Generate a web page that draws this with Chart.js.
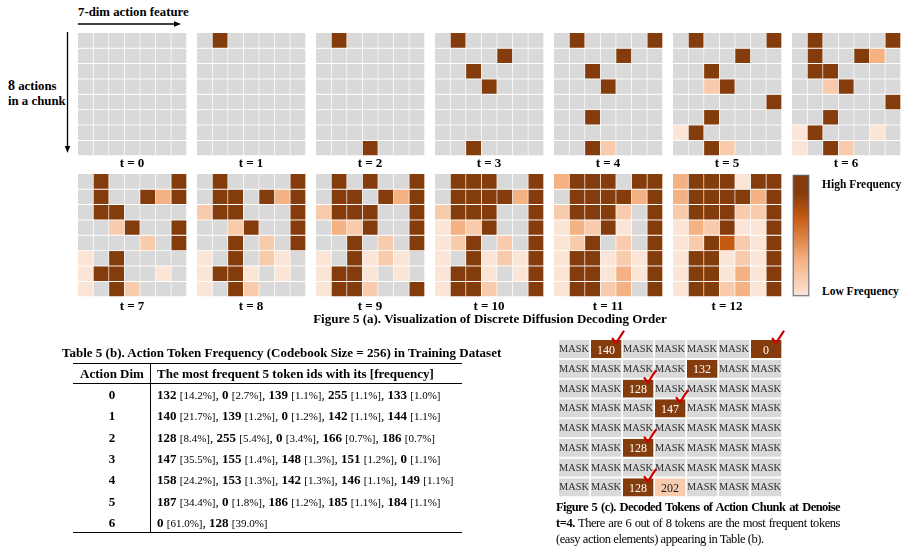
<!DOCTYPE html>
<html><head><meta charset="utf-8">
<script src="https://cdn.jsdelivr.net/npm/chart.js@4.4.1/dist/chart.umd.min.js"></script>
<style>
html,body{margin:0;padding:0;background:#fff;}
#page{position:relative;width:914px;height:554px;overflow:hidden;font-family:"Times New Roman","Liberation Serif",serif;color:#000;}
.abs{position:absolute;white-space:nowrap;}
canvas{position:absolute;}
.f{font-weight:normal;font-size:11px;}
</style></head><body><div id="page"></div>
<script>
// ---------------- data ----------------
// frequency level of each decoded cell (0 = still masked, 1..5 = low..high frequency)
const featureDims = ['0','1','2','3','4','5','6'];
const stepLabels = ['t = 0','t = 1','t = 2','t = 3','t = 4','t = 5','t = 6','t = 7','t = 8','t = 9','t = 10','t = 11','t = 12'];
const levelColors = ['#D9D9D9','#FBE5D6','#F8CBAD','#F4B183','#C55A11','#843C0C'];

const t0 = [[0,0,0,0,0,0,0],[0,0,0,0,0,0,0],[0,0,0,0,0,0,0],[0,0,0,0,0,0,0],[0,0,0,0,0,0,0],[0,0,0,0,0,0,0],[0,0,0,0,0,0,0],[0,0,0,0,0,0,0]];
const t1 = [[0,5,0,0,0,0,0],[0,0,0,0,0,0,0],[0,0,0,0,0,0,0],[0,0,0,0,0,0,0],[0,0,0,0,0,0,0],[0,0,0,0,0,0,0],[0,0,0,0,0,0,0],[0,0,0,0,0,0,0]];
const t2 = [[0,5,0,0,0,0,0],[0,0,0,0,0,0,0],[0,0,0,0,0,0,0],[0,0,0,0,0,0,0],[0,0,0,0,0,0,0],[0,0,0,0,0,0,0],[0,0,0,0,0,0,0],[0,0,0,5,0,0,0]];
const t3 = [[0,5,0,0,0,0,0],[0,0,0,0,5,0,0],[0,0,5,0,0,0,0],[0,0,0,5,0,0,0],[0,0,0,0,0,0,0],[0,0,0,0,0,0,0],[0,0,0,0,0,0,0],[0,0,5,0,0,0,0]];
const t4 = [[0,5,0,0,0,0,5],[0,0,0,0,5,0,0],[0,0,5,0,0,0,0],[0,0,0,5,0,0,0],[0,0,0,0,0,0,0],[0,0,5,0,0,0,0],[0,0,0,0,0,0,0],[0,0,5,2,0,0,0]];
const t5 = [[0,5,0,0,0,0,5],[0,0,0,0,5,0,0],[0,0,5,0,0,0,0],[0,0,2,5,0,0,0],[0,0,0,0,0,0,5],[0,0,5,0,0,0,0],[1,5,0,0,0,0,0],[0,0,5,2,0,0,0]];
const t6 = [[0,5,0,0,0,0,5],[0,5,0,0,5,3,0],[0,5,5,0,0,0,0],[0,0,2,5,0,0,0],[0,0,0,0,0,0,5],[0,0,5,0,0,0,0],[1,5,0,0,0,1,0],[1,0,5,2,0,0,0]];
const t7 = [[0,5,0,0,0,0,5],[0,5,0,0,5,3,5],[0,5,5,0,0,0,0],[0,0,2,5,0,0,5],[0,0,0,0,2,0,5],[1,0,5,0,0,0,0],[1,5,5,0,0,1,0],[1,0,5,2,0,0,0]];
const t8 = [[0,5,0,0,0,0,5],[0,5,5,0,5,3,5],[2,5,5,0,0,0,5],[0,0,2,5,0,0,5],[0,0,5,0,2,0,5],[1,0,5,0,2,1,0],[1,5,5,1,0,1,0],[1,0,5,2,0,0,0]];
const t9 = [[0,5,0,5,0,0,5],[0,5,5,0,5,3,5],[2,5,5,5,0,0,5],[0,3,2,5,0,0,5],[0,0,5,0,2,0,5],[1,0,5,1,2,1,0],[1,5,5,1,0,1,0],[1,5,5,2,0,0,5]];
const t10 = [[0,5,5,5,0,0,5],[0,5,5,5,5,3,5],[2,5,5,5,0,0,5],[1,3,2,5,0,0,5],[1,2,5,0,2,0,5],[1,0,5,1,2,1,5],[1,5,5,1,0,1,5],[1,5,5,2,0,0,5]];
const t11 = [[3,5,5,5,0,5,5],[0,5,5,5,5,3,5],[2,5,5,5,2,0,5],[1,3,2,5,1,0,5],[1,2,5,0,2,0,5],[1,5,5,1,2,1,5],[1,5,5,1,3,1,5],[1,5,5,2,3,0,5]];
const t12 = [[3,5,5,5,1,5,5],[3,5,5,5,5,3,5],[2,5,5,5,2,2,5],[1,3,2,5,1,1,5],[1,2,5,4,2,1,5],[1,5,5,1,2,1,5],[1,5,5,1,3,1,5],[1,5,5,2,3,1,5]];
const decodingSteps = [t0,t1,t2,t3,t4,t5,t6,t7,t8,t9,t10,t11,t12];

const colorbarStops = [[0,'#843C0C'],[0.15,'#843C0C'],[0.35,'#C55A11'],[0.7,'#F4B183'],[1,'#FBE5D6']];

// table (b)
const actionDims = ['0','1','2','3','4','5','6'];
const topTokenIds = [[132,0,139,255,133],[140,139,0,142,144],[128,255,0,166,186],[147,155,148,151,0],[158,153,142,146,149],[187,0,186,185,184],[0,128]];
const topTokenFreqs = [['14.2%','2.7%','1.1%','1.1%','1.0%'],['21.7%','1.2%','1.2%','1.1%','1.1%'],['8.4%','5.4%','3.4%','0.7%','0.7%'],['35.5%','1.4%','1.3%','1.2%','1.1%'],['24.2%','1.3%','1.3%','1.1%','1.1%'],['34.4%','1.8%','1.2%','1.1%','1.1%'],['61.0%','39.0%']];

// (c) decoded tokens at t=4
const chunkTokens = [
  [null,'140',null,null,null,null,'0'],
  [null,null,null,null,'132',null,null],
  [null,null,'128',null,null,null,null],
  [null,null,null,'147',null,null,null],
  [null,null,null,null,null,null,null],
  [null,null,'128',null,null,null,null],
  [null,null,null,null,null,null,null],
  [null,null,'128','202',null,null,null]];
const chunkLevels = [
  [0,5,0,0,0,0,5],[0,0,0,0,5,0,0],[0,0,5,0,0,0,0],[0,0,0,5,0,0,0],
  [0,0,0,0,0,0,0],[0,0,5,0,0,0,0],[0,0,0,0,0,0,0],[0,0,5,2,0,0,0]];
const frequentHits = [[0,1],[0,6],[2,2],[3,3],[5,2],[7,2]];

// ---------------- helpers ----------------
const page = document.getElementById('page');
const SERIF = '"Times New Roman","Liberation Serif",serif';
function addText(html, x, yc, size, bold, align, width){
  const d = document.createElement('div');
  d.className = 'abs';
  d.innerHTML = html;
  const lh = Math.round(size*1.4);
  d.style.fontSize = size+'px';
  d.style.lineHeight = lh+'px';
  d.style.top = (yc - lh/2)+'px';
  d.style.fontWeight = bold ? 'bold' : 'normal';
  if (align === 'center'){ const w = width||400; d.style.left = (x - w/2)+'px'; d.style.width = w+'px'; d.style.textAlign='center'; }
  else d.style.left = x+'px';
  page.appendChild(d);
  return d;
}
function fitAndJustify(d, width){
  let ls = 0;
  while (d.getBoundingClientRect().width > width - 8 && ls > -1){
    ls -= 0.05; d.style.letterSpacing = ls+'px';
  }
  const w = d.getBoundingClientRect().width;
  const spaces = (d.textContent.match(/ /g) || []).length;
  if (spaces && w < width) d.style.wordSpacing = ((width - w)/spaces)+'px';
  return ls;
}
function addCanvas(x, y, w, h){
  const c = document.createElement('canvas');
  c.width = w; c.height = h;
  c.style.left = x+'px'; c.style.top = y+'px';
  c.style.width = w+'px'; c.style.height = h+'px';
  page.appendChild(c);
  return c;
}
const baseOpts = {responsive:false, animation:false, events:[], devicePixelRatio:1,
  plugins:{legend:{display:false}, tooltip:{enabled:false}}};

function gridChart(canvas, levels, gap, padding, extraPlugins){
  const datasets = levels.map(row => ({
    data: row.map(() => 1),
    backgroundColor: row.map(v => levelColors[v]),
    borderColor: '#ffffff',
    borderWidth: {top:0, left:0, right:gap, bottom:gap},
    borderSkipped: false,
    categoryPercentage: 1, barPercentage: 1,
    stack: 'cells'
  }));
  return new Chart(canvas, {
    type:'bar',
    data:{labels: featureDims, datasets},
    options: Object.assign({}, baseOpts, {
      layout:{padding: padding || 0},
      scales:{
        x:{display:false, stacked:true},
        y:{display:false, stacked:true, min:0, max:levels.length, reverse:true}
      }
    }),
    plugins: extraPlugins || []
  });
}

// ---------------- heatmaps (a) ----------------
const HX0 = 78, HPITCH = 119, HW = 109, HH = 123;
decodingSteps.forEach((grid, i) => {
  const rowI = i < 7 ? 0 : 1;
  const colI = i < 7 ? i : i - 7;
  const x = HX0 + HPITCH*colI;
  const y = rowI === 0 ? 33 : 174;
  gridChart(addCanvas(x, y, HW, HH), grid, 1);
  addText(stepLabels[i], x + 54, rowI === 0 ? 163 : 306, 13, true, 'center', 100);
});

// colorbar
new Chart(addCanvas(792, 174, 18, 123), {
  type:'bar',
  data:{labels:[''], datasets:[{
    data:[1],
    backgroundColor: (ctx) => {
      const ca = ctx.chart.chartArea;
      if (!ca) return colorbarStops[0][1];
      const g = ctx.chart.ctx.createLinearGradient(0, ca.top, 0, ca.bottom);
      colorbarStops.forEach(s => g.addColorStop(s[0], s[1]));
      return g;
    },
    borderColor:'#5d6678', borderWidth:1.5, borderSkipped:false,
    categoryPercentage:1, barPercentage:1
  }]},
  options: Object.assign({}, baseOpts, {
    layout:{padding:{left:0.5,right:0.5,top:0.5,bottom:0.5}},
    scales:{x:{display:false}, y:{display:false, min:0, max:1}}
  })
});
addText('High Frequency', 822, 184, 11.5, true);
addText('Low Frequency', 822, 291, 11.5, true);

// axis annotations
addText('7-dim action feature', 78, 12, 12.8, true);
addText('<span style="font-size:14px">8</span> actions', 8, 86, 12.8, true);
addText('in a chunk', 8, 101, 12.8, true);
const svgNS = 'http://www.w3.org/2000/svg';
const svg = document.createElementNS(svgNS,'svg');
svg.setAttribute('width','914'); svg.setAttribute('height','554');
svg.style.position='absolute'; svg.style.left='0'; svg.style.top='0';
svg.innerHTML =
  '<line x1="78" y1="24" x2="176" y2="24" stroke="#000" stroke-width="1.3"/>'+
  '<polygon points="181,24 174,21.3 174,26.7" fill="#000"/>'+
  '<line x1="67.5" y1="32" x2="67.5" y2="147" stroke="#000" stroke-width="1.3"/>'+
  '<polygon points="67.5,153 64.8,146 70.2,146" fill="#000"/>';
page.appendChild(svg);

addText('Figure 5 (a). Visualization of Discrete Diffusion Decoding Order', 490, 319, 13, true, 'center', 500);

// ---------------- table (b) ----------------
addText('Table 5 (b). Action Token Frequency (Codebook Size = 256) in Training Dataset', 62, 353, 13, true);
function rule(x, y, w, h){
  const d = document.createElement('div');
  d.style.position='absolute'; d.style.left=x+'px'; d.style.top=y+'px';
  d.style.width=w+'px'; d.style.height=h+'px'; d.style.background='#000';
  page.appendChild(d);
}
rule(73, 362.5, 389, 1.5);
rule(73, 383, 389, 1);
rule(73, 531.5, 389, 1.5);
rule(150, 363, 1, 169);
addText('Action Dim', 112, 374, 13, true, 'center', 80);
addText('The most frequent 5 token ids with its [frequency]', 157, 374, 13, true);
actionDims.forEach((d, r) => {
  const yc = 395 + r*21.33;
  addText(d, 112, yc, 13, true, 'center', 60);
  const parts = topTokenIds[r].map((id, k) => '<b>'+id+'</b> <span class="f">['+topTokenFreqs[r][k]+']</span>');
  addText(parts.join(', '), 157, yc, 13, false);
});

// ---------------- decoded chunk (c) ----------------
const checkPlugin = {
  id:'chunkLabels',
  afterDatasetsDraw(chart){
    const ctx = chart.ctx;
    ctx.save();
    ctx.textAlign='center'; ctx.textBaseline='middle';
    chunkTokens.forEach((row, r) => {
      const meta = chart.getDatasetMeta(r);
      row.forEach((tok, c) => {
        const el = meta.data[c];
        const p = el.getProps(['x','y','base','width']);
        const top = Math.min(p.y, p.base), bottom = Math.max(p.y, p.base);
        const cx = p.x - 1, cy = (top + bottom)/2 - 0.5;
        if (tok === null){
          ctx.fillStyle = '#2b2b2b'; ctx.font = '10.3px '+SERIF;
          ctx.fillText('MASK', cx, cy);
        } else {
          ctx.fillStyle = chunkLevels[r][c] === 5 ? '#ffffff' : '#1a1a1a';
          ctx.font = '12px '+SERIF;
          ctx.fillText(tok, cx, cy + 1);
        }
      });
    });
    ctx.strokeStyle = '#d00000'; ctx.lineWidth = 2.2; ctx.lineCap='round'; ctx.lineJoin='round';
    frequentHits.forEach(([r, c]) => {
      const p = chart.getDatasetMeta(r).data[c].getProps(['x','y','base','width']);
      const R = p.x + p.width/2 - 2, T = Math.min(p.y, p.base);
      ctx.beginPath();
      ctx.moveTo(R - 8.4, T - 1.3);
      ctx.lineTo(R - 5, T + 3);
      ctx.lineTo(R + 2.6, T - 8.7);
      ctx.stroke();
    });
    ctx.restore();
  }
};
gridChart(addCanvas(559, 326, 232, 172), chunkLevels, 2, {top:14, right:8, left:0, bottom:0}, [checkPlugin]);

const cap1 = addText('Figure 5 (c). Decoded Tokens of Action Chunk at Denoise', 556, 507, 12.5, true);
const cap2 = addText('<b>t=4.</b> There are 6 out of 8 tokens are the most frequent tokens', 556, 523, 12.5, false);
const cap3 = addText('(easy action elements) appearing in Table (b).', 556, 539, 12.5, false);
fitAndJustify(cap1, 284);
const ls2 = fitAndJustify(cap2, 284);
cap3.style.letterSpacing = ls2+'px';
</script></body></html>
